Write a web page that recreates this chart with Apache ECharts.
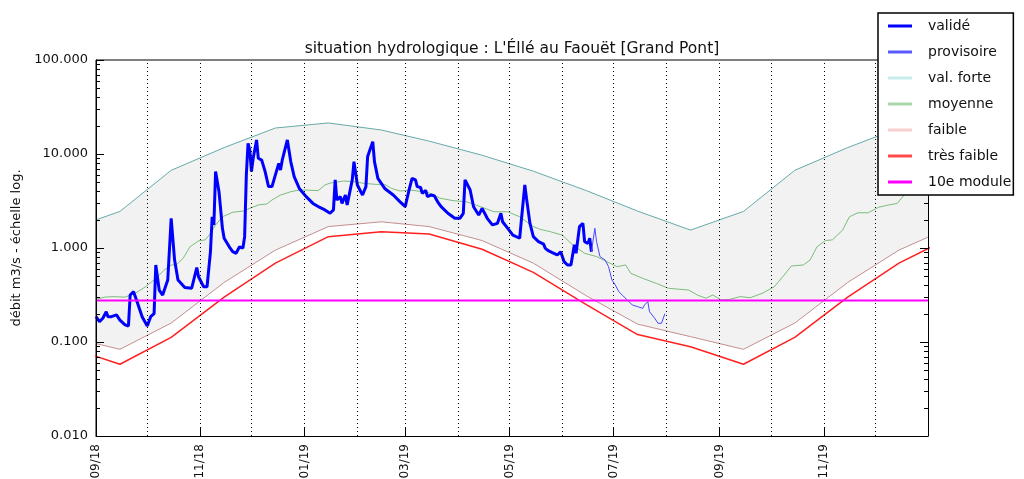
<!DOCTYPE html>
<html>
<head>
<meta charset="utf-8">
<script src="https://cdn.jsdelivr.net/npm/echarts@6/dist/echarts.min.js"></script>
<style>
  html, body { margin: 0; padding: 0; background: #fff; }
  #main { width: 1024px; height: 479px; }
</style>
</head>
<body>
<div id="main"></div>
<script>
// days counted from 2018-09-01
const DAY = 86400000;
const t0 = Date.UTC(2018, 8, 1);
const tEnd = Date.UTC(2020, 0, 1);

// tick labels (every other month) and dotted month grid
const tickMonths = ['2018-09', '2018-11', '2019-01', '2019-03', '2019-05', '2019-07', '2019-09', '2019-11'];
const gridMonths = ['2018-10', '2018-11', '2018-12', '2019-01', '2019-02', '2019-03', '2019-04', '2019-05',
  '2019-06', '2019-07', '2019-08', '2019-09', '2019-10', '2019-11', '2019-12'];

// débit validé [day, m3/s]
const valide = [[0,0.186],[2,0.165],[4,0.179],[6,0.21],[7,0.186],[9,0.186],[12,0.194],[14,0.171],[17,0.152],[19,0.148],
  [20,0.316],[22,0.343],[24,0.269],[27,0.186],[30,0.148],[32,0.186],[34,0.2],[35,0.66],[37,0.357],[39,0.316],
  [42,0.457],[44,2.07],[46,0.745],[48,0.457],[52,0.38],[56,0.373],[59,0.62],[60,0.495],[63,0.387],[65,0.387],
  [67,0.913],[68,2.15],[69,1.76],[70,6.5],[71,6.75],[72,3.97],[74,1.62],[75,1.27],[78,1.03],[80,0.913],
  [82,0.878],[84,1.03],[86,1.0],[87,1.32],[88,6.0],[89,13.0],[90,11.0],[91,6.5],[92,9.0],[94,14.1],
  [95,9.0],[97,8.6],[99,6.5],[101,4.5],[103,4.5],[105,6.0],[107,7.96],[108,6.75],[109,8.6],[110,9.0],
  [112,14.1],[114,8.3],[116,5.74],[119,4.3],[123,3.52],[127,2.98],[131,2.7],[134,2.54],[137,2.34],[139,2.54],
  [140,5.3],[141,3.24],[143,3.52],[144,2.98],[146,3.66],[147,2.87],[150,5.3],[151,8.3],[153,4.68],[155,3.97],
  [156,3.66],[158,4.5],[159,9.4],[160,9.0],[162,13.5],[163,8.3],[165,5.5],[169,4.3],[174,3.66],[178,3.1],
  [181,2.75],[183,3.97],[185,5.5],[187,5.3],[188,4.5],[190,4.4],[191,3.81],[193,4.1],[194,3.52],[196,3.66],
  [198,3.6],[200,3.1],[202,2.75],[206,2.34],[210,2.07],[213,2.07],[215,2.34],[216,5.3],[217,5.5],[219,4.14],
  [221,2.75],[224,2.24],[226,2.64],[229,2.07],[232,1.76],[235,1.83],[237,2.34],[238,1.9],[241,1.62],[244,1.37],
  [248,1.27],[249,1.99],[251,4.68],[252,3.37],[254,1.83],[256,1.32],[259,1.17],[262,1.1],[263,0.99],[265,0.93],
  [268,0.878],[270,0.843],[272,0.913],[274,0.715],[276,0.66],[278,0.66],[280,1.08],[281,0.878],[283,1.69],[285,1.83],
  [286,1.17],[288,1.12],[289,1.27],[290,0.913]];

// débit provisoire [day, m3/s]
const provisoire = [[290,0.913],[292,1.62],[293,1.17],[295,0.81],[296,0.78],[298,0.745],[300,0.633],[302,0.457],
  [304,0.404],[306,0.343],[308,0.316],[311,0.28],[314,0.247],[317,0.238],[320,0.228],[321,0.247],[323,0.269],
  [324,0.21],[327,0.179],[329,0.158],[331,0.158],[333,0.2]];

// moyenne [day, m3/s]
const moyenne = [[0,0.284],[5,0.30],[10,0.304],[17,0.30],[23,0.33],[29,0.387],[34,0.457],[37,0.516],[40,0.583],
  [44,0.66],[47,0.66],[51,0.777],[55,1.03],[60,1.19],[64,1.22],[67,1.43],[70,1.76],[74,2.15],[80,2.4],[86,2.47],
  [90,2.64],[95,2.87],[100,2.94],[103,3.24],[108,3.66],[114,3.97],[119,4.14],[123,4.14],[130,4.07],[134,4.68],
  [137,4.9],[140,5.0],[145,5.16],[151,5.07],[157,4.87],[164,4.75],[169,4.75],[173,4.3],[178,4.04],[184,4.14],
  [190,4.0],[196,3.81],[201,3.4],[209,3.19],[217,3.1],[225,2.75],[233,2.43],[241,2.43],[248,2.15],[256,1.69],
  [260,1.58],[266,1.49],[273,1.37],[279,1.08],[286,0.878],[293,0.81],[299,0.715],[305,0.633],[310,0.66],[313,0.538],
  [320,0.476],[328,0.42],[335,0.373],[347,0.357],[352,0.316],[357,0.292],[361,0.316],[366,0.28],[371,0.284],[377,0.304],
  [383,0.296],[390,0.33],[397,0.387],[402,0.495],[407,0.643],[414,0.66],[418,0.745],[422,1.03],[427,1.2],[431,1.22],
  [437,1.55],[441,2.15],[446,2.37],[452,2.37],[458,2.71],[464,2.87],[469,2.98],[473,3.66],[479,4.5],[487,5.5]];

// monthly reference values, Jan..Dec (placed mid-month)
const forteMonthly = [21.4, 18.0, 13.7, 9.7, 6.56, 4.08, 2.47, 1.55, 2.45, 6.7, 11.7, 18.9];
const faibleMonthly = [1.69, 1.9, 1.69, 1.2, 0.69, 0.31, 0.155, 0.114, 0.0836, 0.159, 0.43, 0.95];
const tresFaibleMonthly = [1.32, 1.49, 1.41, 0.97, 0.55, 0.25, 0.12, 0.089, 0.058, 0.112, 0.30, 0.69];
const module10 = 0.276;

const yTicks = [0.01, 0.1, 1, 10, 100];

const FONT = 'DejaVu Sans';
const monthTs = s => Date.UTC(+s.slice(0, 4), +s.slice(5, 7) - 1, 1);
const toPts = arr => arr.map(p => [t0 + p[0] * DAY, p[1]]);

// mid-month points from Aug 2018 to Jan 2020
const refMonths = [];
for (let i = 0; i < 18; i++) {
  const m = (7 + i) % 12, y = 2018 + Math.floor((7 + i) / 12);
  refMonths.push({ t: Date.UTC(y, m, 15), m });
}
const refPts = arr => refMonths.map(r => [r.t, arr[r.m]]);

const chart = echarts.init(document.getElementById('main'), null, { renderer: 'canvas' });

const lineBase = { type: 'line', symbol: 'none', showSymbol: false, smooth: false, animation: false, xAxisIndex: 0, yAxisIndex: 0 };

const option = {
  animation: false,
  backgroundColor: '#fff',
  title: {
    text: "situation hydrologique : L'Éllé au Faouët [Grand Pont]",
    left: 'center', top: 36,
    textStyle: { fontFamily: FONT, fontSize: 15.5, fontWeight: 'normal', color: '#111' }
  },
  grid: {
    left: 96, right: 96, top: 60, bottom: 43,
    outerBoundsMode: 'none', containLabel: false,
    show: true, borderColor: '#000', borderWidth: 1, backgroundColor: 'transparent'
  },
  legend: {
    orient: 'vertical', left: 878, top: 13, z: 20,
    backgroundColor: '#fff', borderColor: '#000', borderWidth: 1.5,
    padding: [4, 2, 4, 10],
    itemWidth: 24, itemHeight: 3, itemGap: 8,
    icon: 'rect',
    selectedMode: false,
    textStyle: { fontFamily: FONT, fontSize: 14, color: '#111', padding: [0, 0, 0, 11], lineHeight: 18 },
    data: [
      { name: 'validé', itemStyle: { color: '#0000ff' } },
      { name: 'provisoire', itemStyle: { color: '#5a5aff' } },
      { name: 'val. forte', itemStyle: { color: '#c8ecec' } },
      { name: 'moyenne', itemStyle: { color: '#a8d6a8' } },
      { name: 'faible', itemStyle: { color: '#f7cfcf' } },
      { name: 'très faible', itemStyle: { color: '#ff4a4a' } },
      { name: '10e module', itemStyle: { color: '#ff00ff' } }
    ]
  },
  xAxis: {
    type: 'value', min: t0, max: tEnd, z: 10,
    axisLine: { show: true, lineStyle: { color: '#000', width: 1 } },
    axisTick: { show: true, inside: true, length: 8, customValues: tickMonths.map(monthTs), lineStyle: { color: '#000' } },
    axisLabel: {
      customValues: tickMonths.map(monthTs),
      rotate: 90, margin: 8,
      fontFamily: FONT, fontSize: 12, color: '#111',
      formatter: v => {
        const d = new Date(v);
        const mm = String(d.getUTCMonth() + 1).padStart(2, '0');
        const yy = String(d.getUTCFullYear() % 100).padStart(2, '0');
        return mm + '/' + yy;
      }
    },
    splitLine: { show: false }
  },
  yAxis: [{
    type: 'log', logBase: 10, min: 0.01, max: 100, z: 10,
    name: 'débit m3/s - échelle log.', nameLocation: 'middle', nameGap: 68,
    nameTextStyle: { fontFamily: FONT, fontSize: 13, color: '#111' },
    axisLine: { show: true, lineStyle: { color: '#000', width: 1 } },
    axisTick: { show: true, inside: true, length: 8, lineStyle: { color: '#000' } },
    axisLabel: { fontFamily: FONT, fontSize: 13, color: '#111', margin: 8, formatter: v => (+v).toFixed(3) },
    splitLine: { show: false }
  }, {
    type: 'log', logBase: 10, min: 0.01, max: 100, position: 'right', z: 10,
    axisLine: { show: true, lineStyle: { color: '#000', width: 1 } },
    axisTick: { show: true, inside: true, length: 8, lineStyle: { color: '#000' } },
    axisLabel: { show: false },
    splitLine: { show: false }
  }],
  series: [
    // grey envelope between val. forte and faible: grey down to the axis, then white below faible
    Object.assign({}, lineBase, {
      name: '_forteFill', data: refPts(forteMonthly), silent: true, z: 1,
      lineStyle: { opacity: 0, width: 0 }, areaStyle: { color: '#f2f2f2', opacity: 1, origin: 'start' }
    }),
    Object.assign({}, lineBase, {
      name: '_faibleFill', data: refPts(faibleMonthly), silent: true, z: 1,
      lineStyle: { opacity: 0, width: 0 }, areaStyle: { color: '#ffffff', opacity: 1, origin: 'start' }
    }),
    Object.assign({}, lineBase, {
      name: '_grid', data: [], silent: true, z: 2,
      markLine: {
        silent: true, symbol: 'none', animation: false,
        label: { show: false },
        lineStyle: { color: '#000', type: [1, 3], width: 1 },
        data: gridMonths.map(s => ({ xAxis: monthTs(s) }))
      }
    }),
    Object.assign({}, lineBase, {
      name: 'val. forte', data: refPts(forteMonthly), z: 3,
      lineStyle: { color: '#66a9a9', width: 1 }, itemStyle: { color: '#c8ecec' }
    }),
    Object.assign({}, lineBase, {
      name: 'moyenne', data: toPts(moyenne), z: 3,
      lineStyle: { color: '#7cbd7c', width: 1 }, itemStyle: { color: '#a8d6a8' }
    }),
    Object.assign({}, lineBase, {
      name: 'faible', data: refPts(faibleMonthly), z: 3,
      lineStyle: { color: '#c48e8e', width: 1 }, itemStyle: { color: '#f7cfcf' }
    }),
    Object.assign({}, lineBase, {
      name: 'très faible', data: refPts(tresFaibleMonthly), z: 3,
      lineStyle: { color: '#ff2020', width: 1.5 }, itemStyle: { color: '#ff4a4a' }
    }),
    Object.assign({}, lineBase, {
      name: 'validé', data: toPts(valide), z: 4,
      lineStyle: { color: '#0000ff', width: 3 }, itemStyle: { color: '#0000ff' }
    }),
    Object.assign({}, lineBase, {
      name: 'provisoire', data: toPts(provisoire), z: 4,
      lineStyle: { color: '#4848ff', width: 1 }, itemStyle: { color: '#5a5aff' }
    }),
    Object.assign({}, lineBase, {
      name: '10e module', data: [[t0, module10], [tEnd, module10]], z: 5,
      lineStyle: { color: '#ff00ff', width: 2 }, itemStyle: { color: '#ff00ff' }
    })
  ]
};

chart.setOption(option);

// minor log ticks (2..9 per decade) on both sides, placed through the y scale
const xL = chart.convertToPixel({ xAxisIndex: 0 }, t0);
const xR = chart.convertToPixel({ xAxisIndex: 0 }, tEnd);
const minorEls = [];
yTicks.slice(0, -1).forEach(d => {
  for (let k = 2; k < 10; k++) {
    const y = Math.round(chart.convertToPixel({ yAxisIndex: 0 }, d * k)) + 0.5;
    minorEls.push({ type: 'line', silent: true, z: 10, shape: { x1: xL, y1: y, x2: xL + 4, y2: y }, style: { stroke: '#000', lineWidth: 1 } });
    minorEls.push({ type: 'line', silent: true, z: 10, shape: { x1: xR - 4, y1: y, x2: xR, y2: y }, style: { stroke: '#000', lineWidth: 1 } });
  }
});
chart.setOption({ graphic: minorEls });
</script>
</body>
</html>
